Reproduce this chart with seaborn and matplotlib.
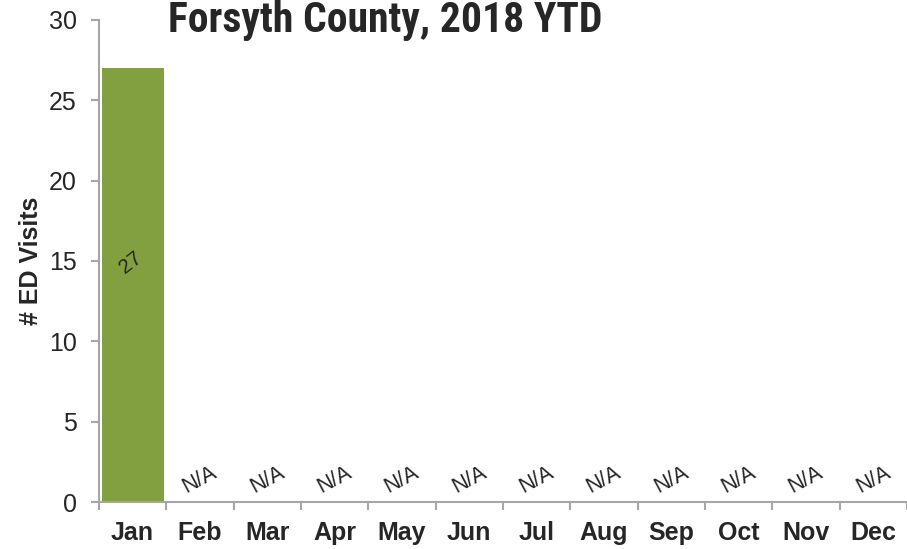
import matplotlib
matplotlib.use("Agg")
import matplotlib.pyplot as plt
import seaborn as sns
import pandas as pd
import numpy as np
import logging
logging.getLogger('matplotlib.font_manager').setLevel(logging.ERROR)

months = ["Jan", "Feb", "Mar", "Apr", "May", "Jun", "Jul", "Aug", "Sep", "Oct", "Nov", "Dec"]
visits = [27, np.nan, np.nan, np.nan, np.nan, np.nan, np.nan, np.nan, np.nan, np.nan, np.nan, np.nan]
bar_labels = ["27", "N/A", "N/A", "N/A", "N/A", "N/A", "N/A", "N/A", "N/A", "N/A", "N/A", "N/A"]
yticks = [0, 5, 10, 15, 20, 25, 30]
title = "Forsyth County, 2018 YTD"
ylabel = "# ED Visits"

sns.set_style("white")
plt.rcParams['font.family'] = ['Liberation Sans', 'DejaVu Sans']

df = pd.DataFrame({"month": months, "visits": visits})

fig = plt.figure(figsize=(9.07, 5.49), dpi=100)
ax = fig.add_axes([0.109, 0.0856, 0.891, 0.878])
sns.barplot(data=df, x="month", y="visits", color="#82A040", width=0.92,
            saturation=1, ax=ax, order=months, linewidth=0)

ax.set_ylim(0, 30)
ax.set_xlim(-0.5, 11.5)
ax.set_yticks(yticks)
ax.set_yticklabels([str(t) for t in yticks], fontsize=18)
ax.set_xticks(range(len(months)))
ax.set_xticklabels(months, fontsize=18, fontweight='bold')
ax.set_xticks(np.arange(-0.5, 12, 1), minor=True)
ax.tick_params(axis='x', which='major', length=0, pad=14)
ax.tick_params(axis='x', which='minor', length=6, color='#A6A6A6', width=1.5, direction='out', bottom=True)
ax.tick_params(axis='y', length=6, color='#A6A6A6', width=1.5, direction='out', left=True, pad=10)
ax.set_xlabel("")
ax.set_ylabel(ylabel, fontsize=18, fontweight='bold', labelpad=4)

for s in ['top', 'right']:
    ax.spines[s].set_visible(False)
for s in ['left', 'bottom']:
    ax.spines[s].set_color('#A6A6A6')
    ax.spines[s].set_linewidth(1.5)

for i, (v, lab) in enumerate(zip(visits, bar_labels)):
    if np.isnan(v):
        ax.text(i, 1.4, lab, rotation=28, ha='center', va='center', fontsize=15.5,
                rotation_mode='anchor')
    else:
        ax.text(i - 0.03, 14.9, lab, rotation=38, ha='center', va='center', fontsize=15,
                rotation_mode='anchor')

fig.text(0.4245, 0.962, title, ha='center', va='center', fontsize=30,
         fontweight='bold',
         family=['Roboto Condensed', 'Barlow Condensed', 'Archivo Narrow', 'Liberation Sans', 'DejaVu Sans'])

fig.savefig("out.png", dpi=100)
